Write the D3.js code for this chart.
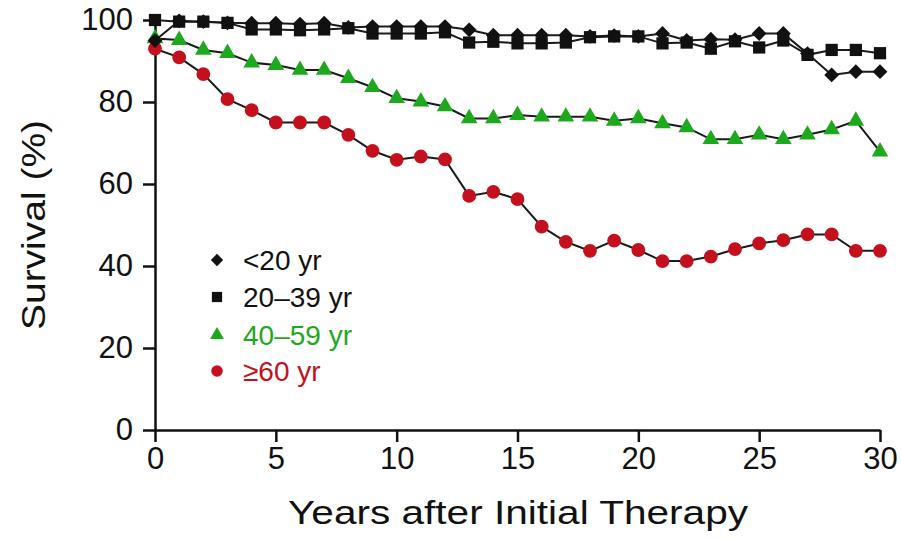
<!DOCTYPE html>
<html>
<head>
<meta charset="utf-8">
<script src="https://cdn.jsdelivr.net/npm/d3@7"></script>
<style>
  body { margin: 0; background: #fff; }
  svg { display: block; font-family: "Liberation Sans", Arial, sans-serif; }
</style>
</head>
<body>
<svg id="chart"></svg>
<script>
// years after initial therapy
const years = [0, 1, 2, 3, 4, 5, 6, 7, 8, 9, 10, 11, 12, 13, 14, 15, 16, 17, 18, 19, 20, 21, 22, 23, 24, 25, 26, 27, 28, 29, 30];

// survival (%) by age group
const under20 = [95, 99.8, 99.6, 99.3, 99.2, 99.2, 99, 99.2, 98.2, 98.4, 98.4, 98.4, 98.4, 97.6, 96.3, 96.3, 96.3, 96.3, 96, 96.2, 96, 96.7, 95, 95.3, 95.2, 96.7, 96.7, 91.8, 86.6, 87.4, 87.4];
const age20to39 = [100, 99.6, 99.6, 99.3, 97.7, 97.7, 97.5, 97.7, 98, 96.7, 96.7, 96.7, 97, 94.5, 94.7, 94.3, 94.3, 94.5, 95.8, 96, 96, 94.3, 94.5, 93, 94.8, 93.3, 95, 91.5, 92.7, 92.7, 91.9];
const age40to59 = [95.5, 95.1, 92.7, 91.9, 89.6, 89.0, 87.8, 87.8, 85.8, 83.6, 80.9, 80.1, 78.9, 76.0, 76.0, 76.8, 76.4, 76.4, 76.4, 75.4, 76.0, 74.8, 73.8, 70.9, 70.9, 72.0, 70.9, 72.0, 73.3, 75.4, 67.9];
const age60plus = [93, 90.9, 86.8, 80.7, 78.0, 75.0, 75.0, 75.0, 72.0, 68.1, 65.9, 66.7, 66.0, 57.1, 58.1, 56.3, 49.6, 45.9, 43.7, 46.2, 43.9, 41.2, 41.2, 42.3, 44.1, 45.5, 46.3, 47.7, 47.7, 43.7, 43.7];

const xTicks = [0, 5, 10, 15, 20, 25, 30];
const yTicks = [0, 20, 40, 60, 80, 100];

const width = 901;
const height = 539;
const black = '#111';
const green = '#1ea81e';
const red = '#c4101c';

// drawn back to front so the black markers sit on top
const series = [
  { label: '\u226560 yr', values: age60plus, symbol: d3.symbolCircle, size: 150, color: red },
  { label: '40\u201359 yr', values: age40to59, symbol: d3.symbolTriangle, size: 120, color: green },
  { label: '20\u201339 yr', values: age20to39, symbol: d3.symbolSquare, size: 150, color: black },
  { label: '<20 yr', values: under20, symbol: d3.symbolDiamond2, size: 140, color: black }
];

const svg = d3.select('#chart')
  .attr('width', width)
  .attr('height', height);

const x = d3.scaleLinear().domain([0, 30]).range([155, 880]);
const y = d3.scaleLinear().domain([0, 100]).range([430, 20]);

// axes
const xAxis = svg.append('g')
  .attr('transform', `translate(0, ${y(0)})`)
  .call(d3.axisBottom(x).tickValues(xTicks).tickSize(12).tickSizeOuter(0).tickPadding(5));

const yAxis = svg.append('g')
  .attr('transform', `translate(${x(0)}, 0)`)
  .call(d3.axisLeft(y).tickValues(yTicks).tickSize(12).tickSizeOuter(0).tickPadding(10));

[xAxis, yAxis].forEach(ax => {
  ax.select('.domain').attr('stroke', black).attr('stroke-width', 2.5);
  ax.selectAll('.tick line').attr('stroke', black).attr('stroke-width', 2.5);
  ax.selectAll('.tick text')
    .attr('fill', black)
    .style('font-size', '31px')
    .style('font-family', '"Liberation Sans", Arial, sans-serif');
});

// lines + markers
const line = d3.line()
  .x((d, i) => x(years[i]))
  .y(d => y(d));

series.forEach(s => {
  const g = svg.append('g');

  g.append('path')
    .datum(s.values)
    .attr('d', line)
    .attr('fill', 'none')
    .attr('stroke', '#1a1a1a')
    .attr('stroke-width', 2);

  g.selectAll('path.mark')
    .data(s.values)
    .join('path')
    .attr('class', 'mark')
    .attr('d', d3.symbol().type(s.symbol).size(s.size))
    .attr('transform', (d, i) => `translate(${x(years[i])}, ${y(d)})`)
    .attr('fill', s.color);
});

// legend
const legendOrder = [series[3], series[2], series[1], series[0]];
const legendY = [260, 297, 335, 371];

const legend = svg.append('g');
legendOrder.forEach((s, i) => {
  const row = legend.append('g').attr('transform', `translate(217, ${legendY[i]})`);
  row.append('path')
    .attr('d', d3.symbol().type(s.symbol).size(s.size * 0.7))
    .attr('fill', s.color);
  row.append('text')
    .attr('x', 26)
    .attr('dy', '0.36em')
    .attr('fill', s.color)
    .style('font-size', '28px')
    .text(s.label);
});

// axis titles
svg.append('text')
  .attr('x', 518)
  .attr('y', 524)
  .attr('text-anchor', 'middle')
  .attr('fill', black)
  .attr('textLength', 460)
  .attr('lengthAdjust', 'spacingAndGlyphs')
  .style('font-size', '33px')
  .text('Years after Initial Therapy');

svg.append('text')
  .attr('transform', 'translate(45, 225) rotate(-90)')
  .attr('text-anchor', 'middle')
  .attr('fill', black)
  .attr('textLength', 210)
  .attr('lengthAdjust', 'spacingAndGlyphs')
  .style('font-size', '33px')
  .text('Survival (%)');
</script>
</body>
</html>
